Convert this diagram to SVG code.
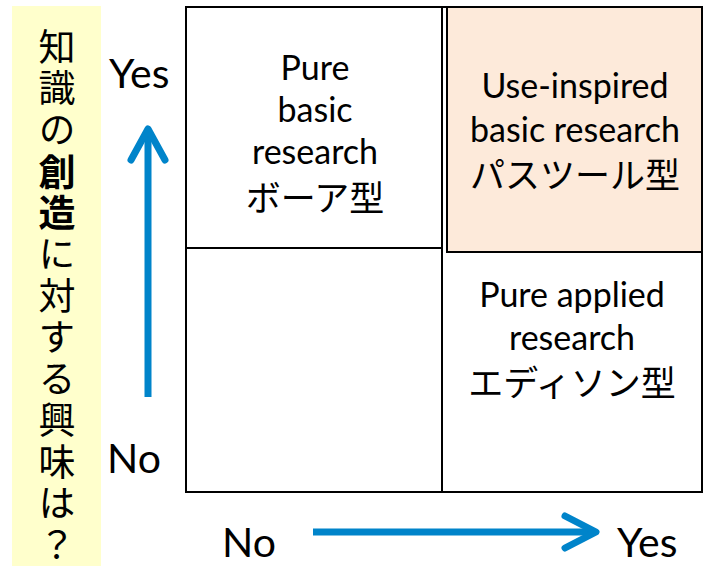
<svg xmlns="http://www.w3.org/2000/svg" width="703" height="566" viewBox="0 0 703 566">
  <style>
    .lat { font-family: Lato, "Noto Sans", "Noto Sans CJK JP", sans-serif; font-size: 34px; fill: #000; text-anchor: middle; }
    .jp { font-family: "Noto Sans CJK JP", sans-serif; font-size: 35px; }
    .ax { font-family: Lato, "Noto Sans", sans-serif; font-size: 41px; fill: #000; }
    .vt { font-family: "Noto Sans CJK JP", sans-serif; font-size: 37px; fill: #000; writing-mode: vertical-rl; letter-spacing: 4.5px; }
    .cell { fill: #fff; stroke: #000; stroke-width: 2; }
    .arrow { fill: none; stroke: #0084CA; stroke-width: 7; }
  </style>

  <g id="y-axis-title">
    <rect x="12" y="6" width="89" height="560" fill="#FFFFCC"/>
    <text class="vt" x="57" y="28">知識の<tspan font-weight="bold">創造</tspan>に対する興味は？</text>
  </g>

  <g id="grid">
    <rect class="cell" x="186" y="7" width="516" height="485"/>
    <line x1="442" y1="7" x2="442" y2="492" stroke="#000" stroke-width="2"/>
    <line x1="186" y1="248" x2="442" y2="248" stroke="#000" stroke-width="2"/>
  </g>

  <g id="pure-basic">
    <text class="lat"><tspan x="315" y="80">Pure</tspan><tspan x="315" y="122">basic</tspan><tspan x="315" y="164">research</tspan><tspan class="jp" x="315" y="211">ボーア型</tspan></text>
  </g>

  <g id="use-inspired">
    <rect x="447" y="7" width="255" height="245" fill="#FDEADA" stroke="#000" stroke-width="2"/>
    <text class="lat"><tspan x="575" y="98">Use-inspired</tspan><tspan x="575" y="142">basic research</tspan><tspan class="jp" x="575" y="188">パスツール型</tspan></text>
  </g>

  <g id="pure-applied">
    <text class="lat"><tspan x="572" y="307">Pure applied</tspan><tspan x="572" y="350">research</tspan><tspan class="jp" x="572" y="396">エディソン型</tspan></text>
  </g>

  <g id="empty-cell"></g>

  <g id="axis-labels">
    <text class="ax" x="109" y="88">Yes</text>
    <text class="ax" x="107" y="473">No</text>
    <text class="ax" x="222" y="557">No</text>
    <text class="ax" x="617" y="557">Yes</text>
  </g>

  <g id="connectors">
    <line class="arrow" x1="148" y1="397" x2="148" y2="132"/>
    <polyline class="arrow" points="131,160 148,129 165,160" stroke-linecap="round" stroke-linejoin="round"/>
    <line class="arrow" x1="313" y1="532" x2="592" y2="532"/>
    <polyline class="arrow" points="565,516 596,532 565,548" stroke-linecap="round" stroke-linejoin="round"/>
  </g>
</svg>
